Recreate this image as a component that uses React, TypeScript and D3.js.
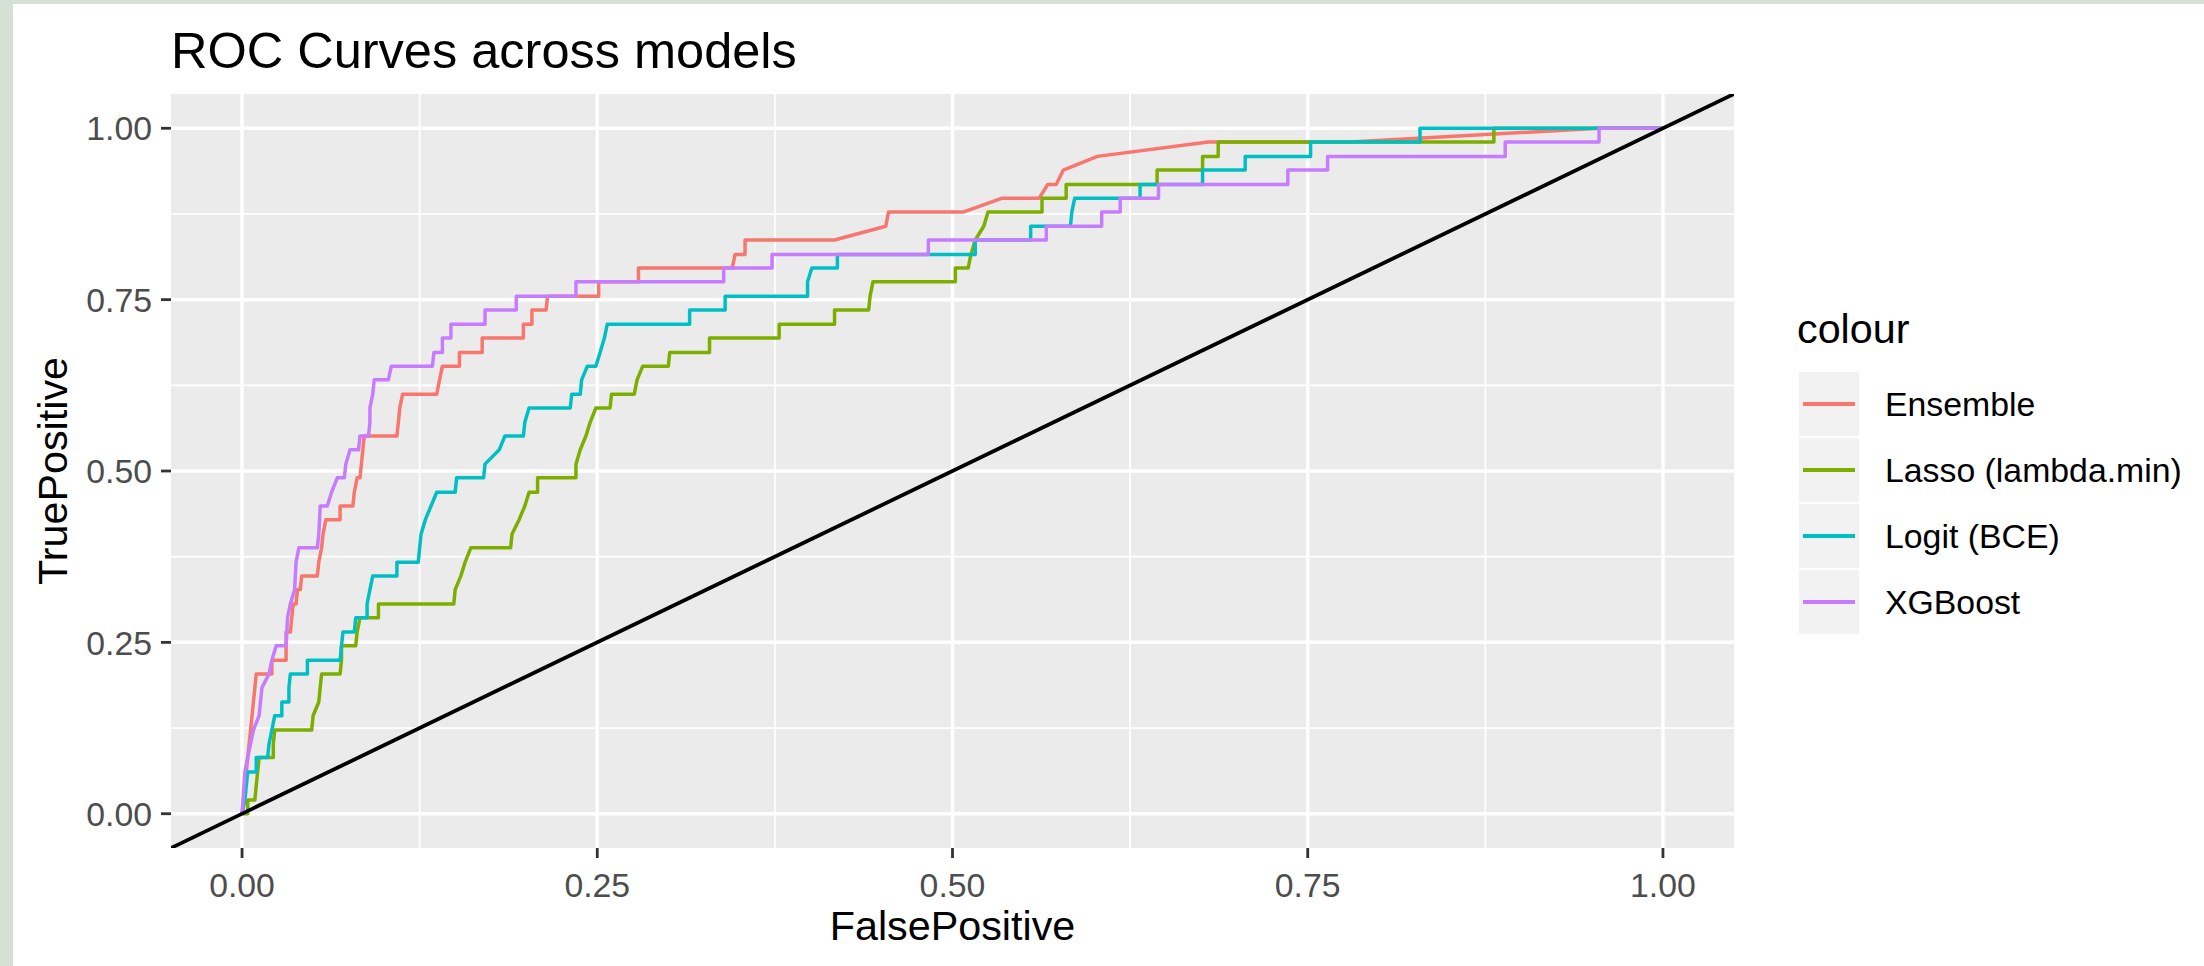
import React from 'react';
import * as d3 from 'd3';

// ROC points, [FalsePositive, TruePositive]
const ensemble: [number, number][] = [
  [0, 0], [0.002, 0.041], [0.004, 0.082], [0.006, 0.122], [0.008, 0.163], [0.010, 0.204],
  [0.021, 0.204], [0.021, 0.224], [0.031, 0.224], [0.031, 0.265], [0.034, 0.265], [0.035, 0.286],
  [0.036, 0.306], [0.038, 0.306], [0.039, 0.327], [0.041, 0.327], [0.042, 0.347], [0.053, 0.347],
  [0.054, 0.367], [0.056, 0.388], [0.057, 0.408], [0.059, 0.429], [0.069, 0.429], [0.069, 0.449],
  [0.078, 0.449], [0.079, 0.469], [0.081, 0.490], [0.083, 0.490], [0.084, 0.510], [0.085, 0.531],
  [0.086, 0.551], [0.109, 0.551], [0.110, 0.571], [0.111, 0.592], [0.113, 0.612], [0.137, 0.612],
  [0.139, 0.633], [0.141, 0.653], [0.153, 0.653], [0.153, 0.673], [0.169, 0.673], [0.169, 0.694],
  [0.198, 0.694], [0.198, 0.714], [0.204, 0.714], [0.204, 0.735], [0.214, 0.735], [0.215, 0.755],
  [0.251, 0.755], [0.251, 0.776], [0.279, 0.776], [0.279, 0.796], [0.345, 0.796], [0.347, 0.816],
  [0.354, 0.816], [0.354, 0.837], [0.417, 0.837], [0.453, 0.857], [0.455, 0.878], [0.508, 0.878],
  [0.535, 0.898], [0.561, 0.898], [0.567, 0.918], [0.573, 0.918], [0.578, 0.939], [0.602, 0.959],
  [0.680, 0.980], [0.780, 0.980], [0.955, 1.0], [1, 1],
];

const lasso: [number, number][] = [
  [0, 0], [0.004, 0], [0.004, 0.020], [0.009, 0.020], [0.010, 0.041], [0.011, 0.061], [0.012, 0.082],
  [0.022, 0.082], [0.022, 0.102], [0.023, 0.122], [0.049, 0.122], [0.050, 0.143], [0.054, 0.163],
  [0.055, 0.184], [0.056, 0.204], [0.069, 0.204], [0.070, 0.224], [0.070, 0.245], [0.080, 0.245],
  [0.081, 0.265], [0.083, 0.286], [0.096, 0.286], [0.096, 0.306], [0.149, 0.306], [0.150, 0.327],
  [0.154, 0.347], [0.157, 0.367], [0.161, 0.388], [0.189, 0.388], [0.190, 0.408], [0.195, 0.429],
  [0.199, 0.449], [0.202, 0.469], [0.208, 0.469], [0.208, 0.490], [0.235, 0.490], [0.235, 0.510],
  [0.238, 0.531], [0.242, 0.551], [0.245, 0.571], [0.249, 0.592], [0.259, 0.592], [0.260, 0.612],
  [0.276, 0.612], [0.278, 0.633], [0.282, 0.653], [0.300, 0.653], [0.301, 0.673], [0.329, 0.673],
  [0.329, 0.694], [0.378, 0.694], [0.378, 0.714], [0.417, 0.714], [0.417, 0.735], [0.441, 0.735],
  [0.442, 0.755], [0.444, 0.776], [0.502, 0.776], [0.502, 0.796], [0.511, 0.796], [0.513, 0.816],
  [0.516, 0.837], [0.522, 0.857], [0.525, 0.878], [0.563, 0.878], [0.563, 0.898], [0.580, 0.898],
  [0.580, 0.918], [0.644, 0.918], [0.644, 0.939], [0.676, 0.939], [0.676, 0.959], [0.687, 0.959],
  [0.687, 0.980], [0.881, 0.980], [0.881, 1.0], [1, 1],
];

const logit: [number, number][] = [
  [0, 0], [0.002, 0.020], [0.003, 0.041], [0.004, 0.061], [0.010, 0.061], [0.010, 0.082],
  [0.018, 0.082], [0.019, 0.102], [0.021, 0.122], [0.023, 0.143], [0.028, 0.143], [0.028, 0.163],
  [0.033, 0.163], [0.033, 0.184], [0.034, 0.204], [0.046, 0.204], [0.046, 0.224], [0.069, 0.224],
  [0.070, 0.245], [0.071, 0.265], [0.079, 0.265], [0.080, 0.286], [0.088, 0.286], [0.088, 0.306],
  [0.090, 0.327], [0.092, 0.347], [0.109, 0.347], [0.109, 0.367], [0.124, 0.367], [0.125, 0.388],
  [0.126, 0.408], [0.129, 0.429], [0.133, 0.449], [0.137, 0.469], [0.150, 0.469], [0.151, 0.490],
  [0.170, 0.490], [0.171, 0.510], [0.181, 0.531], [0.185, 0.551], [0.198, 0.551], [0.199, 0.571],
  [0.202, 0.592], [0.231, 0.592], [0.232, 0.612], [0.238, 0.612], [0.239, 0.633], [0.243, 0.653],
  [0.249, 0.653], [0.252, 0.673], [0.255, 0.694], [0.257, 0.714], [0.315, 0.714], [0.315, 0.735],
  [0.340, 0.735], [0.340, 0.755], [0.398, 0.755], [0.398, 0.776], [0.401, 0.796], [0.419, 0.796],
  [0.419, 0.816], [0.516, 0.816], [0.516, 0.837], [0.555, 0.837], [0.555, 0.857], [0.583, 0.857],
  [0.584, 0.878], [0.586, 0.898], [0.632, 0.898], [0.632, 0.918], [0.676, 0.918], [0.676, 0.939],
  [0.706, 0.939], [0.706, 0.959], [0.752, 0.959], [0.752, 0.980], [0.829, 0.980], [0.829, 1.0], [1, 1],
];

const xgboost: [number, number][] = [
  [0, 0], [0.002, 0.061], [0.004, 0.082], [0.006, 0.102], [0.008, 0.122], [0.012, 0.143],
  [0.014, 0.184], [0.019, 0.204], [0.021, 0.224], [0.024, 0.245], [0.031, 0.245], [0.032, 0.286],
  [0.034, 0.306], [0.037, 0.327], [0.038, 0.367], [0.040, 0.388], [0.053, 0.388], [0.054, 0.408],
  [0.055, 0.449], [0.060, 0.449], [0.063, 0.469], [0.067, 0.490], [0.072, 0.490], [0.073, 0.510],
  [0.076, 0.531], [0.082, 0.531], [0.083, 0.551], [0.089, 0.551], [0.090, 0.571], [0.090, 0.592],
  [0.092, 0.612], [0.093, 0.633], [0.103, 0.633], [0.105, 0.653], [0.134, 0.653], [0.135, 0.673],
  [0.141, 0.673], [0.141, 0.694], [0.147, 0.694], [0.147, 0.714], [0.171, 0.714], [0.171, 0.735],
  [0.193, 0.735], [0.193, 0.755], [0.235, 0.755], [0.235, 0.776], [0.339, 0.776], [0.339, 0.796],
  [0.373, 0.796], [0.373, 0.816], [0.483, 0.816], [0.483, 0.837], [0.566, 0.837], [0.566, 0.857],
  [0.605, 0.857], [0.605, 0.878], [0.618, 0.878], [0.618, 0.898], [0.645, 0.898], [0.645, 0.918],
  [0.736, 0.918], [0.736, 0.939], [0.764, 0.939], [0.764, 0.959], [0.889, 0.959], [0.889, 0.980],
  [0.955, 0.980], [0.955, 1.0], [1, 1],
];

const models = ['Ensemble', 'Lasso (lambda.min)', 'Logit (BCE)', 'XGBoost'];
const modelColors = ['#F8766D', '#7CAE00', '#00BFC4', '#C77CFF'];
const curves = [ensemble, lasso, logit, xgboost];

const majorTicks = [0, 0.25, 0.5, 0.75, 1];
const minorTicks = [0.125, 0.375, 0.625, 0.875];
const tickLabels = ['0.00', '0.25', '0.50', '0.75', '1.00'];

const width = 2204;
const height = 966;
const panel = { left: 171, right: 1734, top: 94, bottom: 848 };
const font = '"Liberation Sans", Arial, Helvetica, sans-serif';

export default function App() {
  const x = d3.scaleLinear().domain([-0.05, 1.05]).range([panel.left, panel.right]);
  const y = d3.scaleLinear().domain([-0.05, 1.05]).range([panel.bottom, panel.top]);

  const line = d3.line<[number, number]>()
    .x(d => x(d[0]))
    .y(d => y(d[1]));

  const legendX = 1798;
  const legendTop = 371;
  const keySize = 66;

  return (
    <svg width={width} height={height}
      style={{ position: 'absolute', left: 0, top: 0, fontFamily: font }}>
      <rect x={0} y={0} width={width} height={height} fill="#d6e1d6" />
      <rect x={13} y={4} width={width - 13} height={height - 4} fill="#ffffff" />

      <defs>
        <clipPath id="panel-clip">
          <rect x={panel.left} y={panel.top} width={panel.right - panel.left} height={panel.bottom - panel.top} />
        </clipPath>
      </defs>

      <rect x={panel.left} y={panel.top} width={panel.right - panel.left}
        height={panel.bottom - panel.top} fill="#EBEBEB" />

      {minorTicks.map(t => (
        <g key={'minor' + t}>
          <line x1={x(t)} x2={x(t)} y1={panel.top} y2={panel.bottom} stroke="#fff" strokeWidth={1.8} />
          <line x1={panel.left} x2={panel.right} y1={y(t)} y2={y(t)} stroke="#fff" strokeWidth={1.8} />
        </g>
      ))}
      {majorTicks.map(t => (
        <g key={'major' + t}>
          <line x1={x(t)} x2={x(t)} y1={panel.top} y2={panel.bottom} stroke="#fff" strokeWidth={3.5} />
          <line x1={panel.left} x2={panel.right} y1={y(t)} y2={y(t)} stroke="#fff" strokeWidth={3.5} />
        </g>
      ))}

      <g clipPath="url(#panel-clip)">
        {curves.map((c, i) => (
          <path key={models[i]} d={line(c) || ''} fill="none" stroke={modelColors[i]}
            strokeWidth={3.5} strokeLinejoin="round" />
        ))}
        <line x1={x(-0.05)} y1={y(-0.05)} x2={x(1.05)} y2={y(1.05)} stroke="#000" strokeWidth={3.8} />
      </g>

      {/* axes */}
      {majorTicks.map((t, i) => (
        <g key={'xt' + t}>
          <line x1={x(t)} x2={x(t)} y1={panel.bottom} y2={panel.bottom + 10} stroke="#333" strokeWidth={2.8} />
          <text x={x(t)} y={897} textAnchor="middle" fontSize={33.8} fill="#4D4D4D">{tickLabels[i]}</text>
          <line x1={panel.left - 10} x2={panel.left} y1={y(t)} y2={y(t)} stroke="#333" strokeWidth={2.8} />
          <text x={152} y={y(t)} dy="0.36em" textAnchor="end" fontSize={33.8} fill="#4D4D4D">{tickLabels[i]}</text>
        </g>
      ))}

      <text x={(panel.left + panel.right) / 2} y={940} textAnchor="middle" fontSize={41.3} fill="#000">FalsePositive</text>
      <text transform={`translate(67,${(panel.top + panel.bottom) / 2}) rotate(-90)`} textAnchor="middle"
        fontSize={41.3} fill="#000">TruePositive</text>

      <text x={171} y={68} fontSize={50.5} fill="#000">ROC Curves across models</text>

      {/* legend */}
      <text x={legendX - 1} y={343} fontSize={41.3} fill="#000">colour</text>
      {models.map((m, i) => {
        const ky = legendTop + i * keySize;
        return (
          <g key={'leg' + m}>
            <rect x={legendX} y={ky} width={62} height={keySize} fill="#F2F2F2" stroke="#fff" strokeWidth={2} />
            <line x1={legendX + 5} x2={legendX + 57} y1={ky + keySize / 2} y2={ky + keySize / 2}
              stroke={modelColors[i]} strokeWidth={3.8} />
            <text x={1885} y={ky + keySize / 2} dy="0.36em" fontSize={33.8} fill="#000">{m}</text>
          </g>
        );
      })}
    </svg>
  );
}
